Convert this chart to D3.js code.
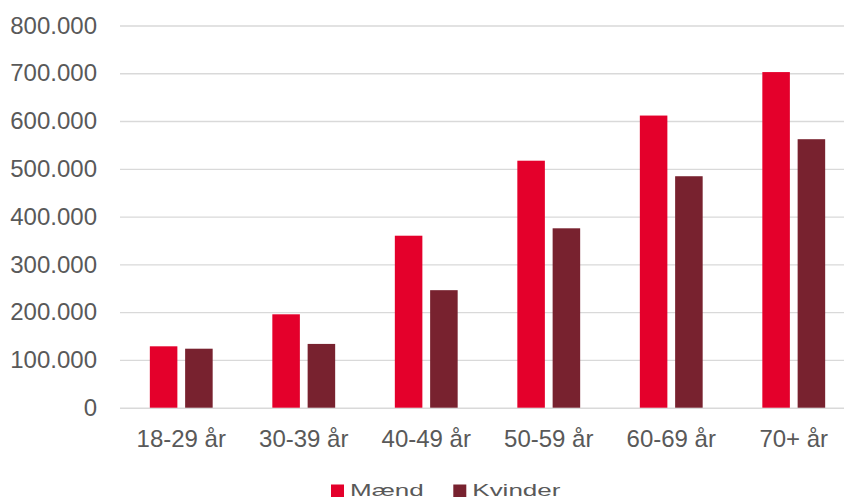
<!DOCTYPE html>
<html>
<head>
<meta charset="utf-8">
<script src="https://cdn.jsdelivr.net/npm/d3@7"></script>
<style>
  body { margin: 0; background: #fff; }
  text { font-family: "Liberation Sans", Arial, sans-serif; fill: #595959; }
</style>
</head>
<body>
<div id="chart"></div>
<script>
// data
const categories = ['18-29 år', '30-39 år', '40-49 år', '50-59 år', '60-69 år', '70+ år'];
const series = ['Mænd', 'Kvinder'];
const maend = [128500, 195500, 360000, 517000, 611500, 702500];
const kvinder = [123500, 133500, 246000, 375500, 484500, 562000];
const yTicks = [0, 100000, 200000, 300000, 400000, 500000, 600000, 700000, 800000];
const colors = ['#e4002b', '#78222f'];

const w = 844;
const h = 500;
const padLeft = 120, padTop = 25.5, baseY = 407.7;

const da = d3.formatLocale({decimal: ',', thousands: '.', grouping: [3], currency: ['', ' kr']});
const fmt = da.format(',.0f');

const rows = categories.map((c, i) => ({cat: c, vals: [maend[i], kvinder[i]]}));

const svg = d3.select('#chart')
  .append('svg')
  .attr('width', w)
  .attr('height', h);

const x0 = d3.scaleBand()
  .domain(categories)
  .range([padLeft, 855])
  .padding(0);

const x1 = d3.scaleBand()
  .domain(series)
  .range([0, x0.bandwidth()])
  .paddingInner(0.22)
  .paddingOuter(0.845);

const y = d3.scaleLinear()
  .domain([0, 800000])
  .range([baseY, padTop]);

// gridlines + y labels
const yAxis = d3.axisLeft(y)
  .tickValues(yTicks)
  .tickFormat(fmt)
  .tickSize(-(w - padLeft))
  .tickPadding(23);

const gy = svg.append('g')
  .attr('transform', `translate(${padLeft},0)`)
  .call(yAxis);
gy.select('.domain').remove();
gy.selectAll('.tick line').attr('stroke', '#d9d9d9').attr('stroke-width', 1.4);
gy.selectAll('.tick text')
  .attr('font-size', 24)
  .style('font-family', '"Liberation Sans", Arial, sans-serif')
  .attr('fill', '#595959');

// bars
const groups = svg.selectAll('g.grp')
  .data(rows)
  .enter()
  .append('g')
  .attr('class', 'grp')
  .attr('transform', (d) => `translate(${x0(d.cat)},0)`);

groups.selectAll('rect')
  .data((d) => d.vals.map((v, i) => ({s: series[i], v: v, i: i})))
  .enter()
  .append('rect')
  .attr('x', (d) => x1(d.s))
  .attr('y', (d) => y(d.v))
  .attr('width', x1.bandwidth())
  .attr('height', (d) => y(0) - y(d.v))
  .attr('fill', (d) => colors[d.i]);

// x labels
const xAxis = d3.axisBottom(x0).tickSize(0).tickPadding(22);
const gx = svg.append('g')
  .attr('transform', `translate(0,${baseY})`)
  .call(xAxis);
gx.select('.domain').remove();
gx.selectAll('.tick text')
  .attr('font-size', 24)
  .style('font-family', '"Liberation Sans", Arial, sans-serif')
  .attr('fill', '#595959');

// legend
const legendX = [331, 453.3];
const legend = svg.append('g');
series.forEach((s, i) => {
  legend.append('rect')
    .attr('x', legendX[i])
    .attr('y', 484.5)
    .attr('width', 13)
    .attr('height', 12.5)
    .attr('fill', colors[i]);
  legend.append('text')
    .attr('transform', `translate(${legendX[i] + 19},496) scale(1,0.64)`)
    .attr('font-size', 26)
    .text(s);
});
</script>
</body>
</html>
